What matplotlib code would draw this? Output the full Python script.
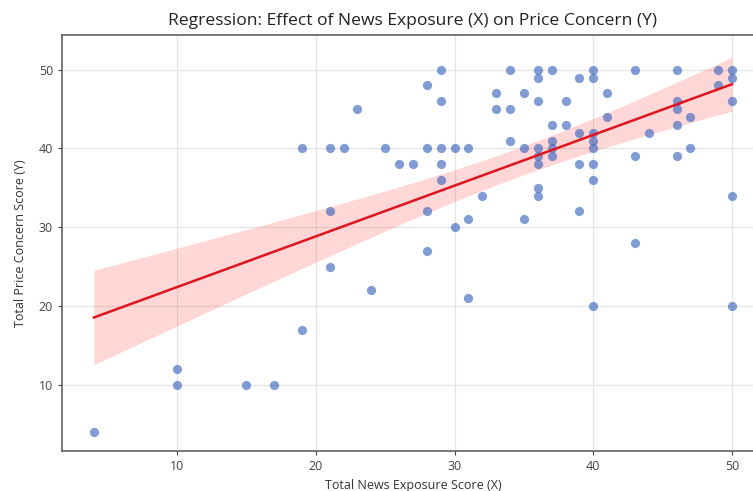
import numpy as np
import matplotlib
matplotlib.use("Agg")
import matplotlib.pyplot as plt

# survey totals
news_x = [4, 10, 10, 15, 17, 19, 19, 21, 21, 21, 22, 23, 24, 25, 26, 27,
          28, 28, 28, 28, 29, 29, 29, 29, 29, 30, 30, 31, 31, 31, 32,
          33, 33, 34, 34, 34, 35, 35, 35,
          36, 36, 36, 36, 36, 36, 36, 36,
          37, 37, 37, 37, 37, 38, 38, 39, 39, 39, 39,
          40, 40, 40, 40, 40, 40, 40, 40, 41, 41,
          43, 43, 43, 44, 46, 46, 46, 46, 46, 47, 47, 49, 49,
          50, 50, 50, 50, 50]
price_y = [4, 12, 10, 10, 10, 17, 40, 40, 32, 25, 40, 45, 22, 40, 38, 38,
           48, 40, 32, 27, 50, 46, 40, 38, 36, 40, 30, 40, 31, 21, 34,
           47, 45, 50, 45, 41, 47, 40, 31,
           50, 49, 46, 40, 39, 38, 35, 34,
           50, 43, 41, 40, 39, 46, 43, 49, 42, 38, 32,
           50, 49, 42, 41, 40, 38, 36, 20, 47, 44,
           50, 39, 28, 42, 50, 46, 45, 43, 39, 44, 40, 50, 48,
           50, 49, 46, 34, 20]

x_ticks = [10, 20, 30, 40, 50]
y_ticks = [10, 20, 30, 40, 50]

plt.rcParams['font.family'] = ['Open Sans', 'DejaVu Sans']

x = np.array(news_x, dtype=float)
y = np.array(price_y, dtype=float)

# OLS fit with 95% confidence band
slope, intercept = np.polyfit(x, y, 1)
grid = np.linspace(x.min(), x.max(), 100)
fit = intercept + slope * grid
n = len(x)
resid = y - (intercept + slope * x)
s = np.sqrt(np.sum(resid ** 2) / (n - 2))
sxx = np.sum((x - x.mean()) ** 2)
se = s * np.sqrt(1.0 / n + (grid - x.mean()) ** 2 / sxx)
t_crit = 1.988
lo, hi = fit - t_crit * se, fit + t_crit * se

fig = plt.figure(figsize=(7.53, 4.91), dpi=100)
ax = fig.add_axes([0.0823, 0.0815, 0.9323, 0.8472])

ax.grid(True, color='#e4e4e4', linewidth=0.9)
ax.set_axisbelow(True)

ax.scatter(x, y, s=44, color='#3f68c0', alpha=0.65, linewidths=0, zorder=3)
ax.fill_between(grid, lo, hi, color='#ff3b3b', alpha=0.2, linewidth=0, zorder=2)
ax.plot(grid, fit, color='#e0141e', linewidth=1.8, zorder=4)

ax.set_xlim(1.7, 52.3)
ax.set_ylim(1.6, 54.4)
ax.set_xticks(x_ticks)
ax.set_yticks(y_ticks)
ax.tick_params(colors='#444444', labelsize=9, length=3, width=0.8)

for side in ax.spines.values():
    side.set_color('#555555')
    side.set_linewidth(1.1)

ax.set_title('Regression: Effect of News Exposure (X) on Price Concern (Y)',
             fontsize=12.6, color='#222222', pad=7)
ax.set_xlabel('Total News Exposure Score (X)', fontsize=9, color='#333333', labelpad=4)
ax.set_ylabel('Total Price Concern Score (Y)', fontsize=9, color='#333333', labelpad=8)

fig.savefig('out.png', dpi=100)
